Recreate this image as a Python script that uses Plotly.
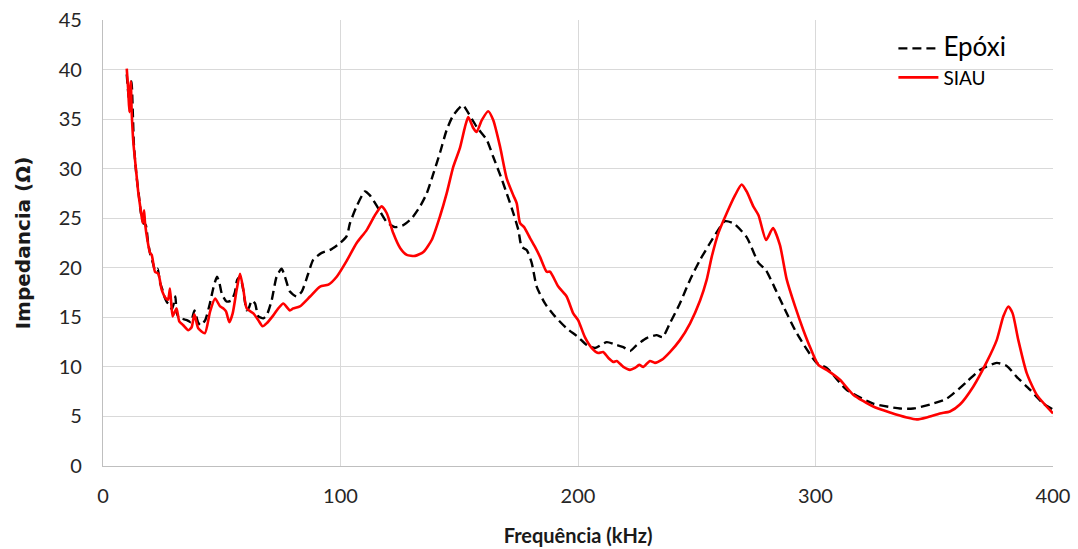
import plotly.graph_objects as go

# Epóxi (black dashed)
epoxi_f = [10, 11, 12, 12.5, 13, 14, 15, 16, 17, 18, 19, 20, 21, 22, 23, 24, 25, 26, 27, 28, 29, 30, 30.5, 31, 32, 33, 34, 35.5, 37, 38.5, 40, 41, 43, 45, 46.5, 48, 49, 50, 52, 54, 55.5, 56.5, 57.7, 58.8, 59.8, 60.5, 61.5, 62.6, 64, 65.4, 67.5, 68.9, 71, 73.1, 75.2, 76.6, 78.7, 81.5, 83.7, 86.4, 88.5, 92.1, 95.6, 99.8, 102.6, 104, 106.8, 110.3, 112.4, 115.9, 119.5, 122.9, 126.4, 130, 133.5, 136.3, 139.1, 141.9, 144.7, 147.5, 151.5, 153.1, 157.4, 161.6, 164.3, 167.5, 170, 172.8, 174.9, 176.3, 178.4, 180.5, 182.6, 186.1, 190.3, 195.2, 200.1, 203.7, 207.2, 212.1, 216.3, 219.1, 221.9, 224.7, 228.9, 233.1, 235.6, 238.7, 242.9, 247.2, 251.4, 255.6, 259.8, 261.9, 265.4, 271, 276, 279, 282.2, 286.5, 292.1, 300.5, 304.7, 313.1, 324.3, 335.6, 341.2, 348.2, 355.3, 363.7, 369.3, 376.3, 380.5, 384.7, 390.3, 395.9, 400]
epoxi_z = [39.5, 37, 38.8, 36, 32.5, 29.5, 27.5, 25.5, 24.5, 24.3, 22.5, 21.3, 20.5, 19.7, 19.9, 18.5, 17.8, 17.0, 16.5, 16.3, 15.8, 16.6, 17.1, 15.5, 15.0, 15.1, 14.8, 14.7, 14.5, 15.7, 14.5, 14.2, 14.7, 16.4, 18.0, 19.1, 18.5, 17.4, 16.6, 16.7, 17.5, 18.8, 19.1, 18.1, 16.5, 15.7, 16.0, 16.7, 16.4, 15.1, 14.9, 15.2, 16.7, 19.1, 19.9, 19.1, 17.6, 17.1, 17.6, 19.4, 20.8, 21.5, 21.8, 22.5, 23.2, 24.5, 26.2, 27.7, 27.3, 26.0, 24.6, 24.1, 24.3, 25.0, 26.2, 27.5, 29.5, 31.6, 33.9, 35.4, 36.4, 35.9, 34.2, 32.9, 31.2, 29.2, 27.5, 25.5, 23.8, 22.1, 21.8, 20.5, 18.1, 16.4, 15.1, 13.9, 13.0, 12.2, 11.9, 12.5, 12.2, 12.0, 11.6, 12.2, 12.9, 13.2, 13.0, 14.4, 16.4, 18.8, 20.8, 22.5, 24.1, 24.7, 24.5, 23.1, 20.5, 19.8, 18.3, 16.1, 13.4, 10.4, 9.9, 7.7, 6.3, 5.8, 5.8, 6.2, 6.8, 8.5, 9.7, 10.4, 10.1, 9.0, 7.7, 6.3, 5.7]

# SIAU (red solid)
siau_f = [10, 10.6, 11.1, 11.7, 12.1, 12.8, 13.9, 14.9, 15.9, 16.7, 17.3, 17.7, 18.7, 19.8, 20.5, 21.2, 21.9, 23.3, 24.7, 26.5, 27.4, 28.2, 29.3, 30.3, 31.0, 32.1, 33.8, 35.9, 37.3, 38.5, 40.1, 42.9, 45.1, 47.2, 49.3, 50.7, 51.8, 53.2, 54.6, 56.3, 57.7, 59.1, 60.5, 63.3, 65.4, 67.2, 68.9, 71.7, 73.8, 75.9, 78.7, 80.1, 82.9, 87.2, 91.4, 94.9, 98.4, 102.6, 106.8, 111.0, 114.5, 117.3, 119.5, 122.2, 125.1, 127.9, 131.4, 134.9, 138.4, 141.9, 144.7, 147.5, 150.3, 152.4, 153.8, 155.9, 157.3, 159.5, 162.2, 164.3, 167.2, 170, 172.8, 174.2, 175.6, 177.3, 179.8, 181.9, 184, 186.8, 188.2, 191.7, 195.2, 198, 200.1, 202.9, 205.8, 208.5, 210.6, 212.8, 214.9, 216.3, 219.1, 221.9, 224, 225.8, 227.5, 230.3, 232.4, 235.2, 238.7, 242.9, 247.2, 251.4, 254.2, 256.3, 259.1, 262.6, 266.1, 268.9, 271, 273.8, 276, 279.2, 282.1, 285, 287.9, 291.4, 294.9, 297.7, 301.2, 304.7, 310.3, 315.9, 324.3, 331.4, 338.4, 342.6, 346.8, 352.4, 356.6, 360.8, 366.4, 372.1, 376.3, 379.1, 381.2, 383, 385.4, 388.9, 393.1, 400]
siau_z = [40.1, 38, 35.7, 38.8, 35.6, 32.6, 29.9, 27.5, 25.8, 24.5, 25.8, 24.5, 22.8, 21.5, 21.3, 20.4, 19.6, 19.4, 17.8, 16.9, 16.8, 17.9, 15.1, 15.6, 15.9, 14.6, 14.2, 13.7, 14.0, 15.3, 13.9, 13.4, 15.6, 16.9, 16.1, 15.9, 15.6, 14.5, 15.4, 17.8, 19.4, 17.8, 15.9, 15.4, 14.7, 14.1, 14.4, 15.2, 15.9, 16.4, 15.7, 15.9, 16.1, 17.1, 18.1, 18.3, 19.1, 20.7, 22.5, 23.8, 25.3, 26.2, 25.5, 23.5, 22.0, 21.3, 21.2, 21.6, 22.8, 25.2, 27.5, 30.2, 32.1, 34.2, 35.2, 34.1, 33.7, 34.9, 35.8, 34.9, 32.2, 29.0, 27.3, 26.5, 24.5, 24.1, 23.0, 22.1, 21.1, 19.6, 19.6, 18.1, 17.1, 15.4, 14.7, 13.0, 11.9, 11.4, 11.5, 10.9, 10.5, 10.6, 10.0, 9.7, 9.9, 10.2, 10.0, 10.6, 10.4, 10.7, 11.5, 12.7, 14.4, 16.7, 18.8, 21.1, 23.5, 25.5, 27.3, 28.4, 27.7, 26.2, 25.3, 22.8, 24.0, 22.3, 18.8, 16.1, 13.7, 12.0, 10.2, 9.7, 8.7, 7.2, 6.0, 5.4, 4.9, 4.7, 4.9, 5.3, 5.5, 6.2, 8.0, 10.5, 12.7, 15.1, 16.1, 15.4, 12.7, 9.4, 7.2, 5.3]

x_ticks = [0, 100, 200, 300, 400]
y_ticks = [0, 5, 10, 15, 20, 25, 30, 35, 40, 45]

FONT = "Lato"

fig = go.Figure()
fig.add_trace(go.Scatter(
    x=epoxi_f, y=epoxi_z, mode="lines",
    name='<span style="font-size:26px">Epóxi</span>',
    line=dict(color="black", width=2.4, dash="9px,5px", shape="spline", smoothing=0.6),
))
fig.add_trace(go.Scatter(
    x=siau_f, y=siau_z, mode="lines",
    name='<span style="font-size:19px">SIAU</span>',
    line=dict(color="#ff0000", width=2.6, shape="spline", smoothing=0.6),
))

fig.update_layout(
    width=1078, height=549,
    margin=dict(l=103, r=25, t=20, b=83),
    paper_bgcolor="white", plot_bgcolor="white",
    font=dict(family=FONT, color="#262626", size=20),
    showlegend=True,
    legend=dict(
        x=0.832, y=0.98, xanchor="left", yanchor="top",
        bgcolor="rgba(0,0,0,0)", font=dict(size=20, color="black", family=FONT),
        tracegroupgap=0, itemwidth=40,
    ),
    xaxis=dict(
        range=[0, 400], tickvals=x_ticks, ticktext=[str(v) for v in x_ticks],
        showgrid=True, gridcolor="#d9d9d9", gridwidth=1.3,
        showline=True, linecolor="#bfbfbf", linewidth=1.3,
        ticks="outside", ticklen=12, tickcolor="rgba(0,0,0,0)",
        zeroline=False, automargin=False,
        title=dict(text="<b>Frequência (kHz)</b>", font=dict(size=20, color="#1a1a1a", family=FONT), standoff=22),
    ),
    yaxis=dict(
        range=[0, 45], tickvals=y_ticks, ticktext=[str(v) for v in y_ticks],
        showgrid=True, gridcolor="#d9d9d9", gridwidth=1.3,
        showline=True, linecolor="#bfbfbf", linewidth=1.3,
        ticks="outside", ticklen=16, tickcolor="rgba(0,0,0,0)",
        zeroline=False, automargin=False,
        title=dict(text="<b>Impedancia (Ω)</b>", font=dict(size=20, color="#1a1a1a", family="DejaVu Sans"), standoff=22),
    ),
)

fig.write_html("out.html")
